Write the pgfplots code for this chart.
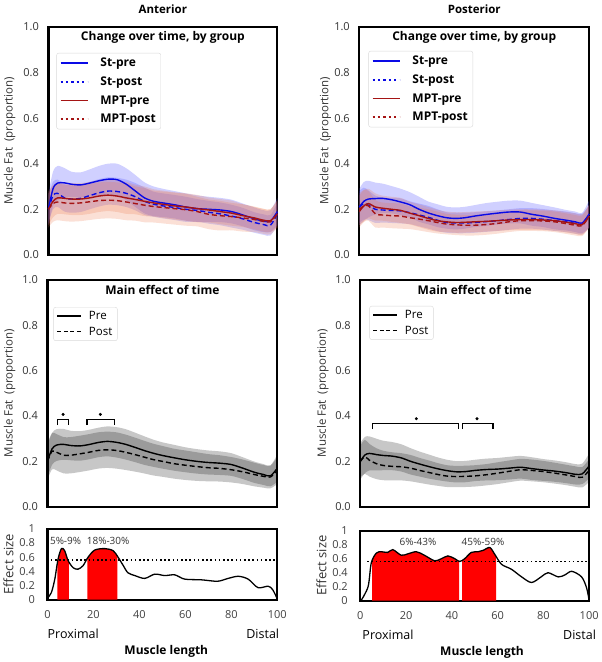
\documentclass[border=0pt]{standalone}
\usepackage{pgfplots}
\pgfplotsset{compat=1.18}
\usepackage{pgfplotstable}
\usepgfplotslibrary{fillbetween}
\usepackage{fontspec}
\setmainfont{Open Sans}

\definecolor{stblue}{RGB}{10,10,230}
\definecolor{mptred}{RGB}{165,20,20}
\definecolor{stband}{RGB}{80,80,255}
\definecolor{mptband}{RGB}{235,115,70}

% columns: x, mean and sd of St-pre (sp), St-post (sq), MPT-pre (mp), MPT-post (mq)
\pgfplotstableread{
x   sp    ssp   sq    ssq   mp    smp   mq    smq
0   0.20  0.07  0.20  0.06  0.20  0.07  0.20  0.08
2   0.29  0.075 0.26  0.06  0.235 0.07  0.225 0.08
4   0.315 0.075 0.27  0.06  0.25  0.07  0.232 0.08
7   0.316 0.065 0.25  0.06  0.248 0.07  0.228 0.08
10  0.31  0.055 0.245 0.06  0.245 0.07  0.226 0.08
14  0.307 0.055 0.248 0.06  0.245 0.07  0.228 0.08
18  0.315 0.06  0.26  0.06  0.25  0.07  0.233 0.08
22  0.325 0.065 0.272 0.06  0.258 0.07  0.238 0.08
26  0.332 0.068 0.28  0.06  0.262 0.07  0.24  0.08
30  0.33  0.07  0.278 0.06  0.258 0.07  0.238 0.08
34  0.31  0.07  0.27  0.06  0.25  0.07  0.232 0.08
38  0.28  0.07  0.255 0.06  0.243 0.065 0.225 0.075
42  0.25  0.068 0.235 0.06  0.235 0.065 0.218 0.075
46  0.235 0.065 0.222 0.055 0.228 0.06  0.212 0.07
50  0.228 0.062 0.215 0.055 0.222 0.06  0.208 0.07
55  0.22  0.06  0.208 0.055 0.215 0.06  0.203 0.07
60  0.21  0.06  0.2   0.055 0.21  0.06  0.198 0.07
65  0.203 0.058 0.195 0.05  0.203 0.06  0.19  0.065
70  0.2   0.055 0.187 0.05  0.197 0.055 0.178 0.065
75  0.197 0.053 0.18  0.05  0.19  0.055 0.172 0.065
80  0.19  0.052 0.17  0.05  0.183 0.055 0.168 0.06
85  0.175 0.05  0.158 0.048 0.172 0.05  0.162 0.06
90  0.158 0.05  0.142 0.045 0.162 0.05  0.155 0.055
94  0.148 0.048 0.133 0.045 0.152 0.05  0.147 0.055
97  0.148 0.048 0.13  0.045 0.15  0.05  0.145 0.055
100 0.19  0.06  0.18  0.05  0.18  0.06  0.18  0.06
}\antTop

\pgfplotstableread{
x   sp    ssp   sq    ssq   mp    smp   mq    smq
0   0.21  0.08  0.21  0.07  0.19  0.07  0.2   0.07
2   0.235 0.085 0.225 0.07  0.215 0.07  0.215 0.07
4   0.245 0.08  0.218 0.065 0.225 0.065 0.215 0.065
7   0.247 0.07  0.2   0.06  0.21  0.06  0.18  0.06
10  0.248 0.065 0.197 0.055 0.205 0.055 0.175 0.055
14  0.242 0.06  0.195 0.055 0.2   0.055 0.172 0.055
18  0.232 0.058 0.193 0.055 0.195 0.055 0.17  0.055
22  0.22  0.055 0.185 0.05  0.183 0.05  0.163 0.05
26  0.2   0.055 0.175 0.05  0.172 0.05  0.157 0.05
30  0.184 0.05  0.165 0.05  0.16  0.05  0.15  0.05
34  0.172 0.05  0.152 0.048 0.15  0.048 0.142 0.048
38  0.163 0.048 0.142 0.045 0.145 0.045 0.135 0.045
42  0.16  0.048 0.14  0.045 0.142 0.045 0.132 0.045
46  0.163 0.048 0.14  0.045 0.143 0.045 0.13  0.045
50  0.17  0.048 0.142 0.045 0.145 0.045 0.13  0.045
55  0.177 0.05  0.146 0.045 0.147 0.045 0.133 0.045
60  0.183 0.05  0.15  0.045 0.15  0.045 0.138 0.045
65  0.188 0.05  0.155 0.045 0.153 0.045 0.145 0.045
70  0.188 0.05  0.16  0.045 0.155 0.045 0.15  0.045
75  0.178 0.05  0.16  0.045 0.155 0.045 0.15  0.045
80  0.17  0.048 0.156 0.045 0.153 0.045 0.149 0.045
85  0.16  0.048 0.15  0.045 0.15  0.045 0.145 0.045
90  0.152 0.045 0.145 0.045 0.143 0.045 0.137 0.045
94  0.145 0.045 0.138 0.045 0.137 0.045 0.13  0.045
97  0.14  0.045 0.135 0.045 0.133 0.045 0.128 0.045
100 0.18  0.06  0.17  0.05  0.17  0.05  0.17  0.05
}\posTop

\pgfplotstableread{
x    pre   spre  post  spost
0    0.2   0.07  0.2   0.08
2    0.255 0.07  0.245 0.08
4    0.272 0.07  0.24  0.08
7    0.275 0.068 0.227 0.08
10   0.27  0.065 0.227 0.08
14   0.268 0.065 0.233 0.08
18   0.274 0.065 0.24  0.08
22   0.283 0.065 0.248 0.08
26   0.288 0.066 0.251 0.08
30   0.284 0.067 0.248 0.08
34   0.275 0.067 0.24  0.078
38   0.262 0.065 0.23  0.075
42   0.248 0.063 0.219 0.072
46   0.236 0.06  0.208 0.07
50   0.226 0.058 0.2   0.068
55   0.216 0.057 0.19  0.066
60   0.207 0.055 0.183 0.065
65   0.2   0.054 0.177 0.063
70   0.195 0.053 0.172 0.06
75   0.192 0.052 0.169 0.058
80   0.186 0.05  0.163 0.056
85   0.17  0.048 0.154 0.054
90   0.152 0.047 0.142 0.052
94   0.142 0.046 0.134 0.05
97   0.136 0.046 0.131 0.05
100  0.17  0.06  0.16  0.06
}\antMid

\pgfplotstableread{
x    pre   spre  post  spost
0    0.2   0.08  0.2   0.07
2    0.228 0.08  0.22  0.075
4    0.235 0.075 0.205 0.072
7    0.23  0.07  0.19  0.068
10   0.226 0.065 0.182 0.065
14   0.223 0.062 0.178 0.062
18   0.215 0.06  0.176 0.06
22   0.2   0.058 0.17  0.058
26   0.188 0.055 0.16  0.055
30   0.177 0.053 0.151 0.053
34   0.167 0.05  0.142 0.05
38   0.159 0.048 0.135 0.048
42   0.154 0.047 0.133 0.047
46   0.155 0.047 0.134 0.047
50   0.16  0.047 0.136 0.047
55   0.164 0.048 0.141 0.047
60   0.166 0.049 0.148 0.048
65   0.17  0.05  0.156 0.048
70   0.174 0.05  0.163 0.048
75   0.168 0.05  0.16  0.048
80   0.162 0.048 0.155 0.047
85   0.157 0.047 0.148 0.046
90   0.15  0.046 0.14  0.045
94   0.143 0.045 0.133 0.045
97   0.145 0.045 0.13  0.045
100  0.18  0.055 0.16  0.05
}\posMid

\pgfplotstableread{
x es
0 0.02
1.7 0.1
3.2 0.29
4.6 0.57
6.1 0.72
7.5 0.69
9 0.55
11.2 0.45
13.3 0.43
15.5 0.48
17.7 0.6
20.6 0.7
25 0.72
28.6 0.69
30.7 0.6
33 0.48
35 0.38
38 0.34
42.3 0.3
46.7 0.36
51 0.34
55.4 0.35
59.7 0.29
67 0.28
74 0.26
78.6 0.3
83 0.33
87.3 0.29
91.6 0.17
96 0.19
98 0.14
100 0.01
}\antES

\pgfplotstableread{
x es
0.3 0
3.4 0.2
4.8 0.54
7 0.68
9.2 0.7
12 0.69
14.2 0.73
17.9 0.65
20.8 0.67
24.5 0.7
28 0.65
32.5 0.57
35.4 0.6
38.3 0.64
41.3 0.6
43.4 0.56
45.6 0.6
48.5 0.69
51.5 0.7
53.7 0.72
56.6 0.76
58.8 0.66
61.7 0.52
66 0.45
70.5 0.34
74.8 0.26
79 0.34
82 0.4
86.5 0.34
89.5 0.37
92.4 0.42
96.7 0.34
98.9 0.18
100 0
}\posES

% band: table, mean column, sd column, fill style
\newcommand{\band}[4]{%
  \addplot[draw=none, forget plot, smooth, name path=hi#2] table[x=x, y expr=\thisrow{#2}+\thisrow{#3}] {#1};
  \addplot[draw=none, forget plot, smooth, name path=lo#2] table[x=x, y expr=\thisrow{#2}-\thisrow{#3}] {#1};
  \addplot[#4, forget plot] fill between[of=hi#2 and lo#2];
}

\pgfplotsset{
  panel/.style={
    scale only axis, clip=false,
    xmin=0, xmax=100, ymin=0, ymax=1,
    axis line style={line width=2.2pt},
    major tick length=0pt,
    ytick={0,0.2,...,1},
    /pgf/number format/assume math mode=true,
    tick label style={font=\fontsize{11}{13}\selectfont, text=black!80},
    ylabel style={anchor=center, font=\fontsize{11.5}{13}\selectfont, text=black!80},
  },
  upper/.style={
    panel, xtick=\empty,
    yticklabel style={xshift=-6pt, /pgf/number format/.cd, fixed, fixed zerofill, precision=1},
    ylabel={Muscle Fat\ \ (proportion)},
  },
  grouplegend/.style={
    legend style={at={(#1)}, anchor=north west, draw=black!15, rounded corners=2pt,
      font=\bfseries\fontsize{12}{14}\selectfont, inner xsep=3pt, inner ysep=3pt,
      row sep=4.5pt, cells={anchor=west},
      /tikz/every odd column/.append style={column sep=10pt}},
    legend image code/.code={\draw[##1] (0pt,0pt) -- (27pt,0pt);},
  },
  timelegend/.style={
    legend style={at={(#1)}, anchor=north west, draw=black!15, rounded corners=2pt,
      font=\fontsize{11.5}{13}\selectfont, inner xsep=3pt, inner ysep=2pt,
      row sep=2pt, cells={anchor=west},
      /tikz/every odd column/.append style={column sep=5pt}},
    legend image code/.code={\draw[##1] (0pt,0pt) -- (24pt,0pt);},
  },
  lower/.style={
    panel, xtick={0,20,...,100},
    tick label style={font=\fontsize{11}{13}\selectfont, text=black!75},
    yticklabel style={xshift=-9pt},
    xticklabel style={yshift=-7pt},
    ylabel={Effect size},
    ylabel style={font=\fontsize{13}{15}\selectfont, text=black!80},
  },
}

\begin{document}
\begin{tikzpicture}[x=1pt, y=1pt]
\path (0,0) rectangle (600,662);

% ---------- top left: anterior, by group
\begin{axis}[upper, at={(47pt,407pt)}, anchor=south west, width=229pt, height=228pt,
  ylabel style={at={(axis description cs:-0.17,0.5)}}, grouplegend={0.035,0.886}]
\addlegendimage{stblue, line width=1.8pt}\addlegendentry{St-pre}
\addlegendimage{stblue, line width=1.8pt, dash pattern=on 2.2pt off 3.2pt}\addlegendentry{St-post}
\addlegendimage{mptred, line width=1.8pt}\addlegendentry{MPT-pre}
\addlegendimage{mptred, line width=1.8pt, dash pattern=on 2.2pt off 3.2pt}\addlegendentry{MPT-post}
\band{\antTop}{sp}{ssp}{stband, fill opacity=0.27}
\band{\antTop}{sq}{ssq}{stband, fill opacity=0.25}
\band{\antTop}{mp}{smp}{mptband, fill opacity=0.22}
\band{\antTop}{mq}{smq}{mptband, fill opacity=0.22}
\addplot[stblue, line width=1.4pt, smooth, forget plot] table[x=x, y=sp] {\antTop};
\addplot[stblue, line width=1.4pt, smooth, dash pattern=on 5pt off 3pt, forget plot] table[x=x, y=sq] {\antTop};
\addplot[mptred, line width=1.4pt, smooth, forget plot] table[x=x, y=mp] {\antTop};
\addplot[mptred, line width=1.4pt, smooth, dash pattern=on 5pt off 3pt, forget plot] table[x=x, y=mq] {\antTop};
\node[font=\bfseries\fontsize{12}{14}\selectfont] at (rel axis cs:0.5,0.955) {Change over time, by group};
\node[font=\bfseries\fontsize{11.5}{13}\selectfont, anchor=base, yshift=13pt] at (rel axis cs:0.5,1) {Anterior};
\end{axis}

% ---------- top right: posterior, by group
\begin{axis}[upper, at={(358pt,407pt)}, anchor=south west, width=230pt, height=228pt,
  ylabel style={at={(axis description cs:-0.148,0.5)}}, grouplegend={0.04,0.895}]
\addlegendimage{stblue, line width=1.8pt}\addlegendentry{St-pre}
\addlegendimage{stblue, line width=1.8pt, dash pattern=on 2.2pt off 3.2pt}\addlegendentry{St-post}
\addlegendimage{mptred, line width=1.8pt}\addlegendentry{MPT-pre}
\addlegendimage{mptred, line width=1.8pt, dash pattern=on 2.2pt off 3.2pt}\addlegendentry{MPT-post}
\band{\posTop}{sp}{ssp}{stband, fill opacity=0.27}
\band{\posTop}{sq}{ssq}{stband, fill opacity=0.25}
\band{\posTop}{mp}{smp}{mptband, fill opacity=0.22}
\band{\posTop}{mq}{smq}{mptband, fill opacity=0.22}
\addplot[stblue, line width=1.4pt, smooth, forget plot] table[x=x, y=sp] {\posTop};
\addplot[stblue, line width=1.4pt, smooth, dash pattern=on 5pt off 3pt, forget plot] table[x=x, y=sq] {\posTop};
\addplot[mptred, line width=1.4pt, smooth, forget plot] table[x=x, y=mp] {\posTop};
\addplot[mptred, line width=1.4pt, smooth, dash pattern=on 5pt off 3pt, forget plot] table[x=x, y=mq] {\posTop};
\node[font=\bfseries\fontsize{12}{14}\selectfont] at (rel axis cs:0.5,0.955) {Change over time, by group};
\node[font=\bfseries\fontsize{11.5}{13}\selectfont, anchor=base, yshift=13pt] at (rel axis cs:0.5,1) {Posterior};
\end{axis}

% ---------- middle left: anterior, main effect of time
\begin{axis}[upper, at={(46pt,155pt)}, anchor=south west, width=230pt, height=227pt,
  ylabel style={at={(axis description cs:-0.165,0.5)}}, timelegend={0.026,0.88}]
\addlegendimage{black, line width=1.3pt}\addlegendentry{Pre}
\addlegendimage{black, line width=1.3pt, dash pattern=on 4pt off 2.5pt}\addlegendentry{Post}
\band{\antMid}{pre}{spre}{black, fill opacity=0.22}
\band{\antMid}{post}{spost}{black, fill opacity=0.22}
\addplot[black, line width=1.4pt, smooth, forget plot] table[x=x, y=pre] {\antMid};
\addplot[black, line width=1.4pt, smooth, dash pattern=on 5pt off 3pt, forget plot] table[x=x, y=post] {\antMid};
\addplot[black, line width=1.2pt, forget plot] coordinates {(4.3,0.36) (4.3,0.383) (9,0.383) (9,0.36)};
\addplot[black, line width=1.2pt, forget plot] coordinates {(17.2,0.36) (17.2,0.383) (29.2,0.383) (29.2,0.36)};
\addplot[only marks, mark=*, mark size=1.3pt, black, forget plot] coordinates {(6.8,0.407) (23,0.407)};
\node[font=\bfseries\fontsize{12}{14}\selectfont] at (rel axis cs:0.5,0.955) {Main effect of time};
\end{axis}

% ---------- middle right: posterior, main effect of time
\begin{axis}[upper, at={(359pt,155pt)}, anchor=south west, width=229pt, height=227pt,
  ylabel style={at={(axis description cs:-0.163,0.5)}}, timelegend={0.04,0.885}]
\addlegendimage{black, line width=1.3pt}\addlegendentry{Pre}
\addlegendimage{black, line width=1.3pt, dash pattern=on 4pt off 2.5pt}\addlegendentry{Post}
\band{\posMid}{pre}{spre}{black, fill opacity=0.22}
\band{\posMid}{post}{spost}{black, fill opacity=0.22}
\addplot[black, line width=1.4pt, smooth, forget plot] table[x=x, y=pre] {\posMid};
\addplot[black, line width=1.4pt, smooth, dash pattern=on 5pt off 3pt, forget plot] table[x=x, y=post] {\posMid};
\addplot[black, line width=1.2pt, forget plot] coordinates {(5.5,0.342) (5.5,0.366) (43,0.366) (43,0.342)};
\addplot[black, line width=1.2pt, forget plot] coordinates {(44.5,0.342) (44.5,0.366) (58,0.366) (58,0.342)};
\addplot[only marks, mark=*, mark size=1.3pt, black, forget plot] coordinates {(24.5,0.388) (51,0.388)};
\node[font=\bfseries\fontsize{12}{14}\selectfont] at (rel axis cs:0.5,0.955) {Main effect of time};
\end{axis}

% ---------- bottom left: anterior effect size
\begin{axis}[lower, at={(46pt,62pt)}, anchor=south west, width=230pt, height=71pt,
  ylabel style={at={(axis description cs:-0.17,0.5)}}]
\addplot[draw=none, smooth, name path=es] table[x=x, y=es] {\antES};
\addplot[draw=none, name path=base] coordinates {(0,0) (100,0)};
\addplot[fill=red, draw=none] fill between[of=es and base, soft clip={domain=4.3:9.3}];
\addplot[fill=red, draw=none] fill between[of=es and base, soft clip={domain=17.4:30.4}];
\addplot[black, line width=1.6pt, dash pattern=on 1.6pt off 2.6pt] coordinates {(1.5,0.56) (100,0.56)};
\addplot[black, line width=1.3pt, smooth] table[x=x, y=es] {\antES};
\node[font=\fontsize{10}{12}\selectfont, text=black!80] at (axis cs:7.9,0.83) {5\%-9\%};
\node[font=\fontsize{10}{12}\selectfont, text=black!80] at (axis cs:26.4,0.83) {18\%-30\%};
\node[font=\fontsize{12.5}{14}\selectfont, anchor=west, inner sep=0pt, yshift=-34pt] at (rel axis cs:0,0) {Proximal};
\node[font=\fontsize{12.5}{14}\selectfont, anchor=east, inner sep=0pt, yshift=-34pt, xshift=2pt] at (rel axis cs:1,0) {Distal};
\node[font=\bfseries\fontsize{12}{14}\selectfont, yshift=-52pt] at (rel axis cs:0.517,0) {Muscle length};
\end{axis}

% ---------- bottom right: posterior effect size
\begin{axis}[lower, at={(359pt,61pt)}, anchor=south west, width=229pt, height=70pt,
  ylabel style={at={(axis description cs:-0.17,0.5)}}]
\addplot[draw=none, smooth, name path=es] table[x=x, y=es] {\posES};
\addplot[draw=none, name path=base] coordinates {(0,0) (100,0)};
\addplot[fill=red, draw=none] fill between[of=es and base, soft clip={domain=5.2:43.2}];
\addplot[fill=red, draw=none] fill between[of=es and base, soft clip={domain=44.5:59.4}];
\addplot[black, line width=1.6pt, dash pattern=on 1.6pt off 2.6pt] coordinates {(3,0.56) (100,0.56)};
\addplot[black, line width=1.3pt, smooth] table[x=x, y=es] {\posES};
\node[font=\fontsize{10}{12}\selectfont, text=black!80] at (axis cs:25.2,0.84) {6\%-43\%};
\node[font=\fontsize{10}{12}\selectfont, text=black!80] at (axis cs:53.6,0.84) {45\%-59\%};
\node[font=\fontsize{12.5}{14}\selectfont, anchor=west, inner sep=0pt, yshift=-34pt, xshift=2pt] at (rel axis cs:0,0) {Proximal};
\node[font=\fontsize{12.5}{14}\selectfont, anchor=east, inner sep=0pt, yshift=-34pt, xshift=7pt] at (rel axis cs:1,0) {Distal};
\node[font=\bfseries\fontsize{12}{14}\selectfont, yshift=-52pt] at (rel axis cs:0.532,0) {Muscle length};
\end{axis}
\end{tikzpicture}
\end{document}
